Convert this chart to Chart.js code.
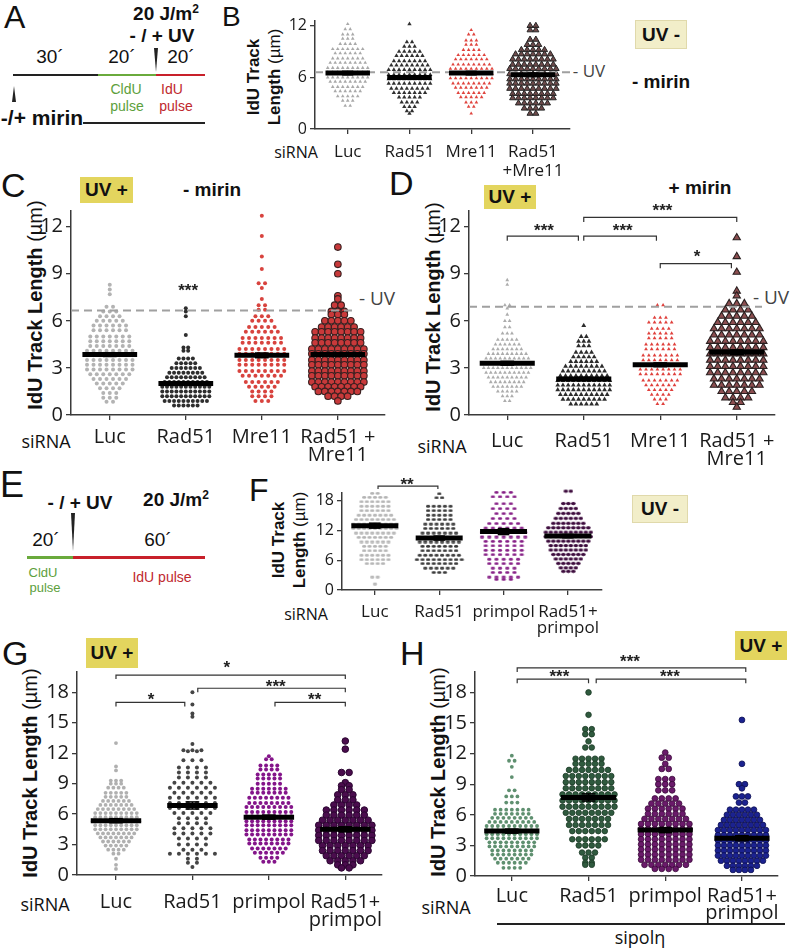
<!DOCTYPE html>
<html><head><meta charset="utf-8">
<script src="https://cdn.jsdelivr.net/npm/chart.js@4.4.1/dist/chart.umd.min.js"></script>
<style>
body{margin:0;background:#fff;}
#fig{position:relative;width:793px;height:950px;overflow:hidden;font-family:"Liberation Sans",Arial,sans-serif;color:#111;}
canvas{position:absolute;}
.t{position:absolute;transform:translate(-50%,-50%);white-space:nowrap;line-height:1.1;}
.L{position:absolute;font-family:"Liberation Sans",Arial,sans-serif;line-height:1;}
.box{position:absolute;display:flex;align-items:center;justify-content:center;font-weight:bold;font-size:19px;box-sizing:border-box;}
.uvp{background:#e3d55e;}
.uvm{background:#f2eec9;border:1px solid #e0d9ab;}
.yt{position:absolute;transform:translate(-50%,-50%) rotate(-90deg);white-space:nowrap;text-align:center;}
.yt b{font-weight:bold;}
.ln{position:absolute;}
.wd{position:absolute;width:0;height:0;}
</style></head>
<body><div id="fig"></div>
<script>
// ---------------- DATA (rows: [value, number of points at that value]) ----------------
const CATS_B = ['Luc','Rad51','Mre11',['Rad51','+Mre11']];
const CATS_CD = ['Luc','Rad51','Mre11',['Rad51 +','Mre11']];
const CATS_FGH = ['Luc','Rad51','primpol',['Rad51+','primpol']];
const TICKS_B = [0,6,12];
const TICKS_CD = [0,3,6,9,12];
const TICKS_F = [0,6,12,18];
const TICKS_GH = [0,3,6,9,12,15,18];

// Panel B (UV -, - mirin)
const B_luc = [[12.2,1],[11.6,2],[11.0,3],[10.5,3],[9.9,4],[9.3,7],[8.8,6],[8.2,7],[7.7,8],[7.1,9],[6.6,9],[6.0,9],[5.5,8],[4.9,7],[4.4,6],[3.8,5],[3.3,3],[2.7,2]];
const B_rad51 = [[12.2,1],[10.1,2],[9.6,3],[9.0,5],[8.5,6],[7.9,7],[7.4,8],[6.9,9],[6.3,9],[5.8,9],[5.3,9],[4.7,8],[4.2,7],[3.7,5],[3.1,4],[2.6,3],[2.1,2],[1.8,1]];
const B_mre11 = [[11.5,1],[11.0,2],[10.3,3],[9.8,3],[9.2,4],[8.6,6],[8.1,7],[7.5,8],[7.0,9],[6.4,9],[5.9,9],[5.3,8],[4.8,7],[4.2,6],[3.7,5],[3.1,3],[2.6,2],[1.8,1]];
const B_rm = [[12.0,2],[11.5,2],[10.4,2],[9.8,3],[9.2,5],[8.7,7],[8.1,8],[7.5,8],[7.0,9],[6.4,9],[5.8,9],[5.3,9],[4.7,9],[4.1,8],[3.6,8],[3.0,6],[2.4,4],[1.8,2]];
const B_mean = [6.5,6.0,6.5,6.3];
const B_sem = [0.2,0.2,0.2,0.2];
const B_noUV = 6.6;

// Panel C (UV +, - mirin)
const C_luc = [[8.3,1],[8.0,1],[7.7,1],[6.9,2],[6.6,3],[6.3,4],[6.0,5],[5.7,6],[5.4,6],[5.0,7],[4.7,7],[4.4,7],[4.1,8],[3.8,8],[3.5,8],[3.2,8],[2.9,8],[2.6,7],[2.3,6],[2.0,5],[1.7,4],[1.4,3],[1.1,3],[0.85,2]];
const C_rad51 = [[6.8,1],[6.6,1],[6.3,1],[5.1,1],[4.3,2],[4.1,2],[3.6,4],[3.3,5],[3.0,7],[2.7,8],[2.4,9],[2.1,10],[1.8,11],[1.5,11],[1.2,11],[0.9,10],[0.6,6]];
const C_mre11 = [[12.7,1],[11.4,1],[10.1,1],[9.3,1],[8.4,2],[8.1,1],[7.4,1],[7.0,2],[6.7,2],[6.3,3],[6.0,4],[5.6,5],[5.3,6],[4.9,7],[4.6,7],[4.2,8],[3.9,8],[3.5,8],[3.2,8],[2.8,8],[2.5,7],[2.1,6],[1.8,5],[1.5,4],[1.2,4],[0.9,3]];
const C_rm = [[10.7,1],[9.6,1],[9.0,1],[7.6,1],[7.4,1],[7.0,2],[6.6,3],[6.4,3],[6.0,5],[5.6,6],[5.3,8],[4.9,8],[4.6,8],[4.2,9],[3.9,9],[3.5,9],[3.2,9],[2.8,9],[2.5,9],[2.1,9],[1.8,8],[1.5,7],[1.2,4],[0.9,1]];
const C_mean = [3.85,2.0,3.8,3.85];
const C_sem = [0.12,0.1,0.15,0.12];
const C_noUV = 6.66;

// Panel D (UV +, + mirin)
const D_luc = [[8.6,1],[8.3,1],[7.0,2],[6.8,1],[6.4,1],[6.0,2],[5.6,2],[5.2,3],[4.8,5],[4.5,6],[4.2,7],[3.9,9],[3.6,10],[3.3,11],[3.0,11],[2.7,10],[2.4,9],[2.1,8],[1.8,7],[1.5,5],[1.2,3],[0.9,2]];
const D_rad51 = [[5.7,1],[5.0,2],[4.7,3],[4.4,3],[4.0,4],[3.7,5],[3.4,6],[3.1,8],[2.8,9],[2.5,10],[2.2,11],[1.9,11],[1.6,11],[1.3,10],[1.0,9],[0.7,6]];
const D_mre11 = [[7.0,2],[6.2,3],[5.9,5],[5.5,4],[5.2,5],[4.9,5],[4.5,6],[4.2,6],[3.8,7],[3.5,7],[3.2,8],[2.9,8],[2.6,8],[2.2,7],[1.9,6],[1.6,5],[1.3,4],[1.0,3],[0.7,2]];
const D_rm = [[11.3,1],[10.1,1],[9.1,1],[7.9,1],[7.6,1],[7.1,3],[6.7,4],[6.3,5],[5.9,6],[5.5,7],[5.1,7],[4.7,8],[4.3,8],[3.9,8],[3.5,8],[3.1,8],[2.7,8],[2.3,7],[1.9,7],[1.5,5],[1.1,4],[0.8,2],[0.5,1]];
const D_mean = [3.3,2.3,3.2,4.0];
const D_sem = [0.12,0.1,0.12,0.15];
const D_noUV = 6.9;

// Panel F (UV -)
const F_luc = [[19.6,2],[18.8,5],[17.9,6],[17.0,6],[16.1,6],[15.2,7],[14.3,8],[13.4,9],[12.5,9],[11.6,8],[10.7,7],[9.8,6],[8.9,5],[8.0,5],[7.1,6],[6.2,6],[5.4,4],[2.7,2],[1.3,1]];
const F_rad51 = [[19.5,1],[18.7,2],[17.0,5],[16.1,5],[15.2,5],[14.3,5],[13.4,6],[12.5,6],[11.6,7],[10.7,8],[9.8,8],[8.9,7],[8.0,7],[7.1,8],[6.2,9],[5.4,7],[4.5,6],[3.6,3]];
const F_primpol = [[19.8,3],[18.9,4],[17.5,3],[16.5,4],[15.5,3],[14.5,4],[13.5,5],[12.6,6],[11.7,7],[10.8,7],[9.9,6],[9.0,6],[8.1,6],[7.2,6],[6.3,5],[5.4,5],[4.5,4],[3.6,4],[2.7,5],[2.2,3]];
const F_rp = [[20.0,2],[17.5,3],[16.5,4],[15.5,5],[14.5,6],[13.5,7],[12.6,9],[11.7,10],[10.8,10],[9.9,9],[9.0,8],[8.1,8],[7.2,7],[6.3,6],[5.4,5],[4.5,4],[3.8,3]];
const F_mean = [13.0,10.5,11.8,10.9];
const F_sem = [0.5,0.4,0.6,0.35];

// Panel G (UV +)
const G_luc = [[13.0,1],[10.7,1],[10.3,1],[9.3,3],[9.0,3],[8.6,4],[8.1,5],[7.7,5],[7.3,6],[6.9,7],[6.5,8],[6.1,9],[5.7,9],[5.3,10],[4.9,9],[4.5,9],[4.1,8],[3.7,7],[3.3,6],[2.9,5],[2.5,4],[2.1,2],[1.6,1],[1.0,1],[0.6,1]];
const G_rad51 = [[18.0,1],[16.8,1],[15.9,1],[15.6,1],[12.9,1],[12.3,3],[12.2,2],[11.3,3],[10.6,4],[10.1,4],[9.6,4],[9.1,5],[8.6,6],[8.1,5],[7.6,6],[7.1,6],[6.6,6],[6.1,5],[5.6,4],[5.1,4],[4.6,5],[4.1,5],[3.6,4],[3.0,4],[2.5,3],[2.1,6],[1.6,2],[1.2,2],[0.8,1]];
const G_primpol = [[11.7,1],[11.4,2],[10.8,4],[10.4,4],[9.9,5],[9.5,5],[9.0,5],[8.5,7],[8.1,7],[7.6,8],[7.1,8],[6.7,9],[6.2,9],[5.8,9],[5.3,9],[4.9,9],[4.4,9],[4.0,9],[3.5,8],[3.1,8],[2.6,7],[2.2,6],[1.7,4],[1.3,3]];
const G_rp = [[13.2,1],[12.4,1],[10.1,2],[9.1,1],[8.8,2],[8.4,2],[7.9,3],[7.4,3],[6.9,4],[6.4,6],[5.9,6],[5.4,7],[4.9,8],[4.4,8],[3.9,8],[3.4,8],[2.9,7],[2.4,7],[1.9,6],[1.4,5],[1.0,3],[0.7,2]];
const G_mean = [5.35,6.85,5.7,4.5];
const G_sem = [0.2,0.35,0.2,0.25];

// Panel H (UV +, sipol eta)
const H_luc = [[11.8,1],[11.3,2],[10.7,1],[9.7,1],[8.4,2],[7.8,3],[7.2,3],[6.5,7],[6.1,7],[5.7,8],[5.3,9],[4.9,10],[4.5,10],[4.1,10],[3.7,10],[3.3,9],[2.9,9],[2.5,8],[2.1,8],[1.7,7],[1.3,6],[0.8,4]];
const H_rad51 = [[18.0,1],[15.8,1],[14.4,2],[13.9,2],[13.2,1],[12.6,2],[11.5,5],[11.0,5],[10.4,7],[9.8,8],[9.2,8],[8.6,8],[8.0,9],[7.4,9],[6.8,9],[6.2,8],[5.6,7],[5.0,7],[4.4,6],[3.6,6],[3.0,4],[2.3,3],[1.8,2],[1.3,2],[1.1,2]];
const H_primpol = [[12.1,1],[11.6,2],[11.0,1],[10.5,2],[9.5,3],[9.0,3],[8.4,3],[7.6,4],[7.1,5],[6.6,6],[6.1,6],[5.6,7],[5.1,8],[4.6,8],[4.1,8],[3.6,8],[3.1,8],[2.6,8],[2.1,8],[1.6,8],[1.1,7],[0.7,4]];
const H_rp = [[15.3,1],[11.0,1],[9.0,2],[8.6,1],[7.8,3],[7.2,2],[6.5,5],[6.0,6],[5.5,7],[5.0,8],[4.5,9],[4.0,9],[3.5,9],[3.0,9],[2.5,9],[2.0,9],[1.5,8],[1.0,6],[0.6,4]];
const H_mean = [4.4,7.7,4.5,3.7];
const H_sem = [0.2,0.35,0.25,0.25];

// significance brackets [fromCat, toCat, y] and star labels [x, y, text]
const D_brackets = [[0,0.93,11.4],[1.0,1.95,11.4],[1.0,3.0,12.6],[2.0,2.93,9.65]];
const D_stars = [[0.48,12.0,'***'],[1.51,12.0,'***'],[2.03,13.3,'***'],[2.48,10.4,'*']];
const C_stars = [[1.03,8.2,'***']];
const F_brackets = [[0.05,0.98,21.0]];
const F_stars = [[0.5,22.2,'**']];
const G_brackets = [[0,3.0,19.7],[0,0.9,17.0],[1.07,3.0,18.4],[2.08,3.0,17.0]];
const G_stars = [[1.45,20.9,'*'],[0.46,17.7,'*'],[2.09,19.0,'***'],[2.6,17.7,'**']];
const H_brackets = [[0.07,3.05,20.4],[0.07,1.0,19.3],[1.1,3.05,19.3]];
const H_stars = [[1.54,21.4,'***'],[0.62,20.0,'***'],[2.06,20.0,'***']];

// ---------------- HTML annotations ----------------
const fig = document.getElementById('fig');
function html(s){ fig.insertAdjacentHTML('beforeend', s); }
function T(x,y,txt,style){ html(`<div class="t" style="left:${x}px;top:${y}px;${style||''}">${txt}</div>`); }
function letter(ch,x,y,fs){ html(`<div class="L" style="left:${x}px;top:${y}px;font-size:${fs}px">${ch}</div>`); }
function box(x,y,w,h,txt,cls){ html(`<div class="box ${cls}" style="left:${x}px;top:${y}px;width:${w}px;height:${h}px">${txt}</div>`); }
function line(x,y,w,h,c){ html(`<div class="ln" style="left:${x}px;top:${y}px;width:${w}px;height:${h}px;background:${c}"></div>`); }
function wedgeDown(x,y,h){ html(`<div class="wd" style="left:${x-2}px;top:${y}px;border-left:2px solid transparent;border-right:2px solid transparent;border-top:${h}px solid #222"></div>`); }
function wedgeUp(x,y,h){ html(`<div class="wd" style="left:${x-2}px;top:${y}px;border-left:2px solid transparent;border-right:2px solid transparent;border-bottom:${h}px solid #222"></div>`); }
function ytitle(x,y,lines,fs){ html(`<div class="yt" style="left:${x}px;top:${y}px;font-size:${fs}px;line-height:${Math.round(fs*1.25)}px">${lines}</div>`); }

// A schematic
letter('A',4,1,32);
T(166,14,'20 J/m<sup style="font-size:12px">2</sup>','font-weight:bold;font-size:19px');
T(162,36,'- / + UV','font-weight:bold;font-size:19px');
T(50,57,'30´','font-size:19px');
T(122,57,'20´','font-size:19px');
T(181,57,'20´','font-size:19px');
line(13,74,85,2,'#222'); line(98,74,58,2,'#6aaa3c'); line(156,74,49,2,'#c8202a');
wedgeDown(156,48,24);
wedgeUp(14,86,16);
T(126,90,'CldU','font-size:14px;color:#5ca03c');
T(127,107,'pulse','font-size:14px;color:#5ca03c');
T(172,90,'IdU','font-size:14px;color:#c0282d');
T(176,107,'pulse','font-size:14px;color:#c0282d');
T(42,118,'-/+ mirin','font-weight:bold;font-size:21px');
line(83,122,122,2,'#222');

// E schematic
letter('E',0,467,36);
T(80,503,'- / + UV','font-weight:bold;font-size:19px');
T(176,500,'20 J/m<sup style="font-size:12px">2</sup>','font-weight:bold;font-size:19px');
wedgeDown(73,513,38);
T(46,540,'20´','font-size:19px');
T(158,540,'60´','font-size:19px');
line(27,556,46,2.5,'#6aaa3c'); line(73,556,132,2.5,'#c8202a');
T(43,573,'CldU','font-size:13px;color:#5ca03c');
T(45,588,'pulse','font-size:13px;color:#5ca03c');
T(162,578,'IdU pulse','font-size:14px;color:#c0282d');

// letters
letter('B',222,3,28); letter('C',1,168,34); letter('D',389,166,34);
letter('F',249,474,32); letter('G',2,636,34); letter('H',400,636,34);

// boxes & conditions
box(635,20,52,29,'UV -','uvm'); T(661,82,'- mirin','font-weight:bold;font-size:19px');
box(80,177,53,26,'UV +','uvp'); T(212,190,'- mirin','font-weight:bold;font-size:19px');
box(484,185,52,24,'UV +','uvp'); T(700,188,'+ mirin','font-weight:bold;font-size:19px');
box(632,495,56,28,'UV -','uvm');
box(86,638,52,30,'UV +','uvp');
box(735,631,52,29,'UV +','uvp');

// - UV labels
T(589,71,'- UV','font-family:Open Sans;font-size:17px;color:#444');
T(377,298,'- UV','font-family:Open Sans;font-size:19px;color:#444');
T(771,297,'- UV','font-family:Open Sans;font-size:19px;color:#444');

// siRNA
T(296,153,'siRNA','font-family:Open Sans;font-size:16px');
T(46,442,'siRNA','font-family:Open Sans;font-size:18px');
T(442,447,'siRNA','font-family:Open Sans;font-size:18px');
T(306,615,'siRNA','font-family:Open Sans;font-size:16px');
T(45,905,'siRNA','font-family:Open Sans;font-size:18px');
T(446,908,'siRNA','font-family:Open Sans;font-size:18px');

// y titles
ytitle(264,77,'<b>IdU Track</b><br><b>Length</b> (µm)',17);
ytitle(35,305,'<b>IdU Track Length</b> (µm)',20);
ytitle(433,307,'<b>IdU Track Length</b> (µm)',20);
ytitle(289,540,'<b>IdU Track</b><br><b>Length</b> (µm)',17);
ytitle(30,773,'<b>IdU Track Length</b> (µm)',20);
ytitle(438,772,'<b>IdU Track Length</b> (µm)',20);

// sipol eta
line(497,923,288,1.5,'#222');
T(640,938,'sipolη','font-family:Open Sans;font-size:18px');

// ---------------- Charts ----------------
const annotPlugin = {
  id:'annot',
  afterDatasetsDraw(chart, args, opts){
    const {ctx} = chart; const xs = chart.scales.x, ys = chart.scales.y;
    ctx.save();
    (opts.items||[]).forEach(([x,y,t])=>{
      const fs = 17;
      ctx.font = `bold ${fs}px "Liberation Sans", Arial, sans-serif`;
      ctx.fillStyle = '#222'; ctx.textAlign='center'; ctx.textBaseline='alphabetic';
      ctx.fillText(t, xs.getPixelForValue(x), ys.getPixelForValue(y) + 0.575*fs);
    });
    ctx.restore();
  }
};

function swarm(rows, cx, stepUnits){
  const pts=[];
  rows.forEach(([v,n])=>{ for(let k=0;k<n;k++) pts.push({x:cx+(k-(n-1)/2)*stepUnits, y:v}); });
  return pts;
}
function ellipseImg(color, w, h, stroke){
  const c=document.createElement('canvas'); c.width=w+2; c.height=h+2;
  const g=c.getContext('2d'); g.fillStyle=color; g.beginPath();
  g.ellipse((w+2)/2,(h+2)/2,w/2,h/2,0,0,Math.PI*2); g.fill();
  if(stroke){g.strokeStyle=stroke;g.lineWidth=1;g.stroke();}
  return c;
}
function seg(points, color, width, dash){
  return {data:points, showLine:true, pointRadius:0, borderColor:color, borderWidth:width, borderDash:dash||[], tension:0, order:0, clip:false, borderCapStyle:'butt'};
}

function panel(p){
  const left = p.L - p.yw, top = p.T - p.padTop;
  const width = p.R - left + p.padRight, height = p.B - top + p.xh;
  const cv = document.createElement('canvas');
  cv.width = width; cv.height = height;
  cv.style.left = left+'px'; cv.style.top = top+'px';
  cv.style.width = width+'px'; cv.style.height = height+'px';
  fig.appendChild(cv);
  const ppu = (p.R - p.L)/(p.xmax - p.xmin);
  const ds = [];
  p.groups.forEach((g,i)=>{
    ds.push({data: swarm(g.rows, i, g.step/ppu), showLine:false, pointStyle:g.style||'circle',
      pointRadius:g.r, backgroundColor:g.fill, borderColor:g.stroke||g.fill, borderWidth:g.bw||0, order:2, clip:false});
  });
  const hw = p.barHalf||0.36;
  p.means.forEach((m,i)=>{
    const s = p.sems[i];
    ds.push(seg([{x:i,y:m-s},{x:i,y:m+s}],'#000',1.5));
    ds.push(seg([{x:i-0.09,y:m+s},{x:i+0.09,y:m+s}],'#000',1.5));
    ds.push(seg([{x:i-0.09,y:m-s},{x:i+0.09,y:m-s}],'#000',1.5));
    ds.push(seg([{x:i-hw,y:m},{x:i+hw,y:m}],'#000',5));
  });
  if(p.noUV!==undefined) ds.push(seg([{x:p.xmin,y:p.noUV},{x:p.dashEnd,y:p.noUV}],'#a0a0a0',2,[8,5]));
  (p.brackets||[]).forEach(([a,b,y])=>{
    ds.push(seg([{x:a,y:y-p.drop},{x:a,y:y},{x:b,y:y},{x:b,y:y-p.drop}],'#333',1.2));
  });
  const axisCol = '#3a3a3a';
  new Chart(cv, {
    type:'scatter',
    data:{datasets:ds},
    plugins:[annotPlugin],
    options:{
      responsive:false, animation:false, events:[],
      layout:{padding:{top:p.padTop,right:p.padRight,left:0,bottom:0}},
      plugins:{legend:{display:false}, tooltip:{enabled:false}, annot:{items:p.stars||[]}},
      scales:{
        x:{type:'linear', min:p.xmin, max:p.xmax,
          afterBuildTicks:s=>{s.ticks=[0,1,2,3].map(v=>({value:v}));},
          afterFit:s=>{s.height=p.xh;},
          ticks:{callback:(v,i)=>p.cats[i], font:{family:'Open Sans', size:p.lfs, lineHeight:p.llh}, color:'#1a1a1a', padding:p.lpad, maxRotation:0, autoSkip:false},
          grid:{drawOnChartArea:false, drawTicks:true, tickLength:5, color:axisCol, lineWidth:1.3},
          border:{display:true, color:axisCol, width:1.5}},
        y:{type:'linear', min:0, max:p.ymax,
          afterBuildTicks:s=>{s.ticks=p.yticks.map(v=>({value:v}));},
          afterFit:s=>{s.width=p.yw;},
          ticks:{font:{family:'Open Sans', size:p.tfs}, color:'#1a1a1a', padding:3, autoSkip:false},
          grid:{drawOnChartArea:false, drawTicks:true, tickLength:5, color:axisCol, lineWidth:1.3},
          border:{display:true, color:axisCol, width:1.5}}
      }
    }
  });
}

// Panel B
panel({L:315,R:570,T:18,B:129,yw:30,padTop:10,padRight:40,xh:50,xmin:-0.53,xmax:3.6,ymax:12.6,yticks:TICKS_B,
  cats:CATS_B,lfs:17,llh:1.1,lpad:9,tfs:16,means:B_mean,sems:B_sem,noUV:B_noUV,dashEnd:3.6,
  groups:[
    {rows:B_luc,step:5,style:'triangle',r:2.1,fill:'#a9a9a9'},
    {rows:B_rad51,step:5.2,style:'triangle',r:2.5,fill:'#303030'},
    {rows:B_mre11,step:5.2,style:'triangle',r:2.1,fill:'#e0443e'},
    {rows:B_rm,step:5.8,style:'triangle',r:3.5,fill:'#6e4a4a',stroke:'#262626',bw:1}]});

// Panel C
panel({L:71,R:385,T:211,B:415,yw:36,padTop:15,padRight:30,xh:60,xmin:-0.51,xmax:3.62,ymax:13,yticks:TICKS_CD,
  cats:CATS_CD,lfs:20,llh:0.9,lpad:8,tfs:20,means:C_mean,sems:C_sem,noUV:C_noUV,dashEnd:3.25,stars:C_stars,
  groups:[
    {rows:C_luc,step:6.5,r:2,fill:'#b3b3b3'},
    {rows:C_rad51,step:4.7,r:2,fill:'#2e2e2e'},
    {rows:C_mre11,step:6.4,r:2,fill:'#d8433e'},
    {rows:C_rm,step:6.5,r:3.3,fill:'#c8393a',stroke:'#3a2020',bw:1.1}]});

// Panel D
panel({L:469,R:775,T:211,B:415,yw:36,padTop:30,padRight:18,xh:60,xmin:-0.5,xmax:3.5,ymax:13,yticks:TICKS_CD,
  cats:CATS_CD,lfs:20,llh:0.9,lpad:12,tfs:20,means:D_mean,sems:D_sem,noUV:D_noUV,dashEnd:3.33,
  brackets:D_brackets,drop:0.3,stars:D_stars,
  groups:[
    {rows:D_luc,step:4.7,style:'triangle',r:2.2,fill:'#acacac'},
    {rows:D_rad51,step:5.2,style:'triangle',r:2.8,fill:'#2c2c2c'},
    {rows:D_mre11,step:5.7,style:'triangle',r:2.2,fill:'#e0403c'},
    {rows:D_rm,step:7.6,style:'triangle',r:4.2,fill:'#8c4e50',stroke:'#2a2020',bw:1.1}]});

// Panel F
panel({L:342,R:602,T:493,B:590,yw:30,padTop:20,padRight:30,xh:48,xmin:-0.51,xmax:3.53,ymax:19.6,yticks:TICKS_F,
  cats:CATS_FGH,lfs:17,llh:0.95,lpad:9,tfs:16,means:F_mean,sems:F_sem,barHalf:0.365,
  brackets:F_brackets,drop:0.6,stars:F_stars,
  groups:[
    {rows:F_luc,step:5.4,style:ellipseImg('#b5b5b5',4.2,2.8),r:2,fill:'#b5b5b5'},
    {rows:F_rad51,step:5.6,style:ellipseImg('#3a3a3a',4.2,2.8),r:2,fill:'#3a3a3a'},
    {rows:F_primpol,step:7.2,style:ellipseImg('#861f86',4.2,2.8),r:2,fill:'#861f86'},
    {rows:F_rp,step:5,style:ellipseImg('#3d0c3d',4.8,3.2),r:2,fill:'#3d0c3d'}]});

// Panel G
panel({L:77,R:382,T:672,B:875,yw:36,padTop:20,padRight:20,xh:60,xmin:-0.51,xmax:3.48,ymax:20,yticks:TICKS_GH,
  cats:CATS_FGH,lfs:20,llh:0.9,lpad:13,tfs:20,means:G_mean,sems:G_sem,barHalf:0.33,
  brackets:G_brackets,drop:0.4,stars:G_stars,
  groups:[
    {rows:G_luc,step:5.2,r:1.9,fill:'#b0b0b0'},
    {rows:G_rad51,step:9,r:2,fill:'#454545'},
    {rows:G_primpol,step:5.6,r:2,fill:'#84158a'},
    {rows:G_rp,step:7.6,r:3.3,fill:'#4a0c4d',stroke:'#2a0530',bw:1}]});

// Panel H
panel({L:475,R:778,T:672,B:876,yw:36,padTop:25,padRight:15,xh:55,xmin:-0.48,xmax:3.47,ymax:20,yticks:TICKS_GH,
  cats:CATS_FGH,lfs:20,llh:0.85,lpad:7,tfs:20,means:H_mean,sems:H_sem,
  brackets:H_brackets,drop:0.4,stars:H_stars,
  groups:[
    {rows:H_luc,step:5.6,r:1.9,fill:'#5f9070'},
    {rows:H_rad51,step:6.5,r:2.8,fill:'#2f5a3e',stroke:'#1c3a26',bw:0.8},
    {rows:H_primpol,step:6.9,r:2.9,fill:'#6a1a6a',stroke:'#3a0a3a',bw:0.8},
    {rows:H_rp,step:6,r:2.9,fill:'#1b2290',stroke:'#0d0f50',bw:0.8}]});
</script>
</body></html>
